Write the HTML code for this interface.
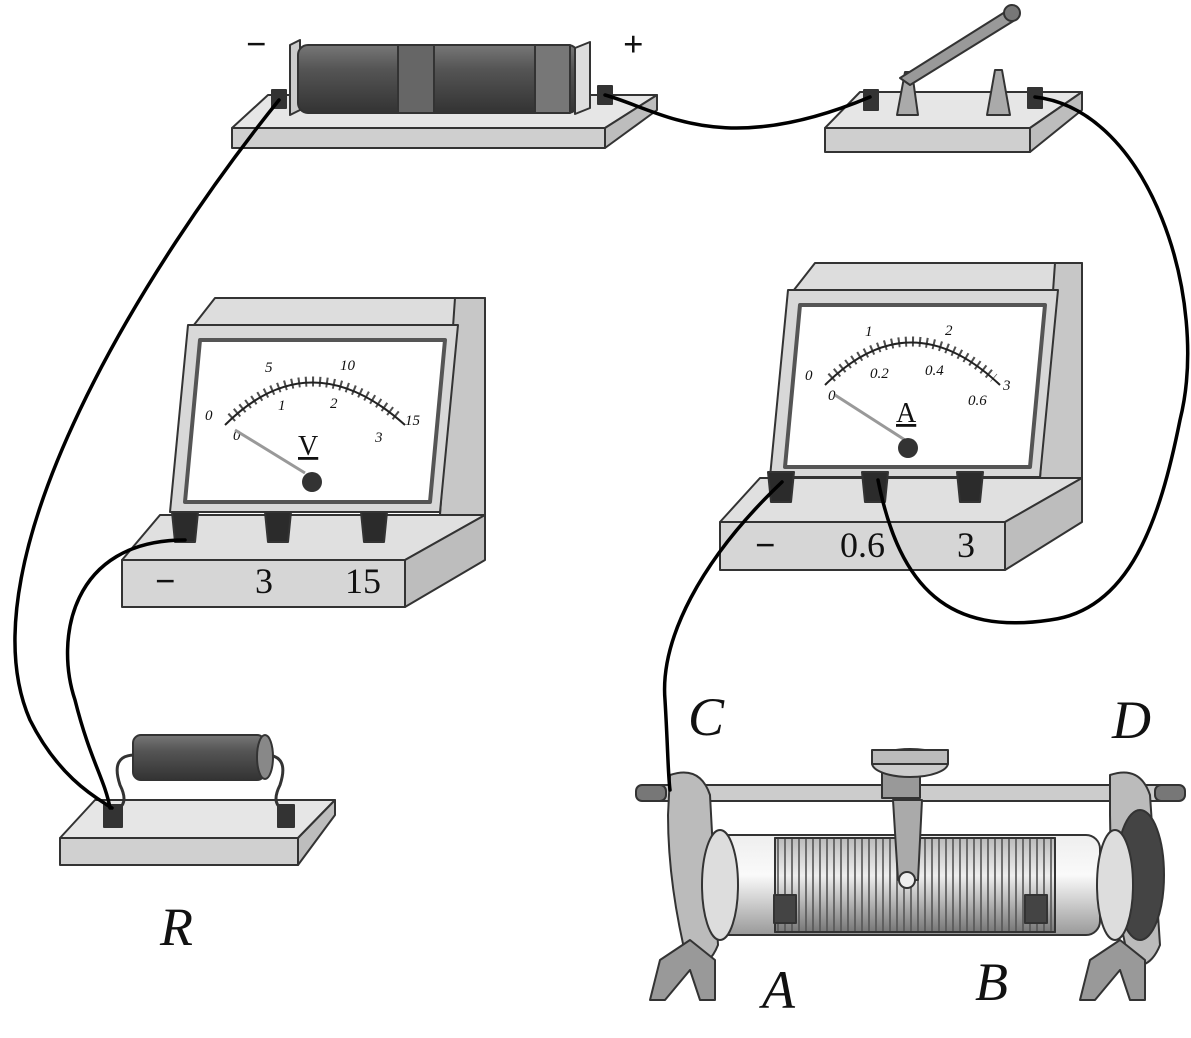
<!DOCTYPE html>
<html><head><meta charset="utf-8"><style>
html,body{margin:0;padding:0;background:#fff;}
svg{display:block;}
text{font-family:"Liberation Serif",serif;}
</style></head><body>
<svg width="1191" height="1038" viewBox="0 0 1191 1038" xmlns="http://www.w3.org/2000/svg">
<defs>
<linearGradient id="cyl" x1="0" y1="0" x2="0" y2="1">
<stop offset="0" stop-color="#777"/><stop offset="0.35" stop-color="#555"/><stop offset="1" stop-color="#333"/></linearGradient>
<linearGradient id="lcyl" x1="0" y1="0" x2="0" y2="1">
<stop offset="0" stop-color="#eee"/><stop offset="0.4" stop-color="#fafafa"/><stop offset="1" stop-color="#999"/></linearGradient>
<linearGradient id="coil" x1="0" y1="0" x2="0" y2="1">
<stop offset="0" stop-color="#bbb"/><stop offset="0.4" stop-color="#eee"/><stop offset="1" stop-color="#777"/></linearGradient>
<pattern id="turns" width="7" height="10" patternUnits="userSpaceOnUse"><line x1="1" y1="0" x2="1" y2="10" stroke="#555" stroke-width="1.6"/></pattern>
</defs>
<g stroke="#333" stroke-width="2" stroke-linejoin="round">
<!-- battery base -->
<polygon points="268,95 657,95 605,128 232,128" fill="#e6e6e6"/>
<rect x="232" y="128" width="373" height="20" fill="#cfcfcf"/>
<polygon points="605,128 657,95 657,110 605,148" fill="#bdbdbd"/>
<polygon points="290,45 300,40 300,110 290,115" fill="#ccc"/>
<rect x="298" y="45" width="280" height="68" rx="10" fill="url(#cyl)"/>
<rect x="398" y="45" width="36" height="68" fill="#666"/>
<rect x="535" y="45" width="35" height="68" fill="#777"/>
<polygon points="575,48 590,42 590,108 575,114" fill="#ddd"/>
<rect x="272" y="90" width="14" height="18" fill="#333"/>
<rect x="598" y="86" width="14" height="18" fill="#333"/>
<!-- switch -->
<polygon points="860,92 1082,92 1030,128 825,128" fill="#e6e6e6"/>
<rect x="825" y="128" width="205" height="24" fill="#cfcfcf"/>
<polygon points="1030,128 1082,92 1082,110 1030,152" fill="#bdbdbd"/>
<polygon points="897,115 905,72 912,72 918,115" fill="#aaa"/>
<polygon points="987,115 995,70 1002,70 1010,115" fill="#aaa"/>
<polygon points="900,78 1005,12 1015,20 910,85" fill="#999"/>
<circle cx="1012" cy="13" r="8" fill="#777"/>
<rect x="864" y="90" width="14" height="20" fill="#333"/>
<rect x="1028" y="88" width="14" height="20" fill="#333"/>
<!-- voltmeter -->
<polygon points="190,330 215,298 485,298 485,515 440,515 455,330" fill="#ddd"/>
<polygon points="455,298 485,298 485,515 440,540 440,515" fill="#c7c7c7"/>
<polygon points="188,325 458,325 440,512 170,512" fill="#d8d8d8"/>
<polygon points="200,340 445,340 430,502 185,502" fill="#fff" stroke="#555" stroke-width="4"/>
<polygon points="160,515 485,515 405,560 122,560" fill="#e0e0e0"/>
<rect x="122" y="560" width="283" height="47" fill="#d6d6d6"/>
<polygon points="405,560 485,515 485,560 405,607" fill="#bdbdbd"/>
<g fill="#2b2b2b"><path d="M172,512 h26 l-3,30 h-20z"/><path d="M265,512 h26 l-3,30 h-20z"/><path d="M361,512 h26 l-3,30 h-20z"/></g>
<!-- ammeter -->
<polygon points="790,295 815,263 1082,263 1082,478 1040,478 1055,295" fill="#ddd"/>
<polygon points="1055,263 1082,263 1082,478 1040,505 1040,478" fill="#c7c7c7"/>
<polygon points="788,290 1058,290 1040,477 770,477" fill="#d8d8d8"/>
<polygon points="800,305 1045,305 1030,467 785,467" fill="#fff" stroke="#555" stroke-width="4"/>
<polygon points="760,478 1082,478 1005,522 720,522" fill="#e0e0e0"/>
<rect x="720" y="522" width="285" height="48" fill="#d6d6d6"/>
<polygon points="1005,522 1082,478 1082,522 1005,570" fill="#bdbdbd"/>
<g fill="#2b2b2b"><path d="M768,472 h26 l-3,30 h-20z"/><path d="M862,472 h26 l-3,30 h-20z"/><path d="M957,472 h26 l-3,30 h-20z"/></g>
<!-- resistor R -->
<polygon points="95,800 335,800 298,838 60,838" fill="#e6e6e6"/>
<rect x="60" y="838" width="238" height="27" fill="#d0d0d0"/>
<polygon points="298,838 335,800 335,815 298,865" fill="#bdbdbd"/>
<path d="M135,755 q-25,0 -15,30 q10,20 -5,25 M265,755 q25,0 15,30 q-10,20 5,25" fill="none" stroke-width="3"/>
<rect x="133" y="735" width="132" height="45" rx="8" fill="url(#cyl)"/>
<ellipse cx="265" cy="757" rx="8" ry="22" fill="#888"/>
<rect x="104" y="805" width="18" height="22" fill="#333"/>
<rect x="278" y="805" width="16" height="22" fill="#333"/>
<!-- rheostat -->
<rect x="640" y="785" width="540" height="16" rx="6" fill="#ccc"/>
<rect x="700" y="835" width="400" height="100" rx="14" fill="url(#lcyl)"/>
<rect x="775" y="838" width="280" height="94" fill="url(#coil)"/>
<rect x="775" y="838" width="280" height="94" fill="url(#turns)"/>
<rect x="882" y="770" width="38" height="28" fill="#999"/>
<ellipse cx="910" cy="763" rx="38" ry="14" fill="#ccc"/>
<rect x="872" y="750" width="76" height="14" fill="#bbb"/>
<polygon points="893,800 922,800 918,880 898,880" fill="#aaa"/>
<circle cx="907" cy="880" r="8" fill="#eee"/>
<rect x="774" y="895" width="22" height="28" fill="#444"/>
<rect x="1025" y="895" width="22" height="28" fill="#444"/>
<path d="M670,775 q30,-10 40,20 l8,150 q-10,25 -30,20 q-20,-80 -20,-150z" fill="#bbb"/>
<ellipse cx="720" cy="885" rx="18" ry="55" fill="#ddd"/>
<path d="M660,960 l30,-20 l25,20 v40 h-15 l-10,-30 l-25,30 h-15z" fill="#999"/>
<path d="M1110,775 q30,-10 40,20 l10,150 q-10,25 -30,20 q-20,-80 -20,-150z" fill="#bbb"/>
<ellipse cx="1140" cy="875" rx="24" ry="65" fill="#444"/>
<ellipse cx="1115" cy="885" rx="18" ry="55" fill="#ddd"/>
<path d="M1090,960 l30,-20 l25,20 v40 h-15 l-10,-30 l-25,30 h-15z" fill="#999"/>
<rect x="636" y="785" width="30" height="16" rx="6" fill="#777"/>
<rect x="1155" y="785" width="30" height="16" rx="6" fill="#777"/>
</g>
<!-- dial scales -->
<g fill="none" stroke="#222" stroke-width="2">
<path d="M225,425 Q310,340 405,425"/>
<path d="M825,385 Q910,300 1000,385"/>
</g>
<g fill="none" stroke="#222" stroke-width="3" stroke-dasharray="2 5">
<path d="M231,418 Q310,345 399,418" stroke-width="10" stroke="#222" opacity="0.8"/>
<path d="M831,378 Q910,305 994,378" stroke-width="10" stroke="#222" opacity="0.8"/>
</g>
<g font-size="15" font-style="italic" fill="#111">
<text x="205" y="420">0</text><text x="265" y="372">5</text><text x="340" y="370">10</text><text x="405" y="425">15</text>
<text x="233" y="440">0</text><text x="278" y="410">1</text><text x="330" y="408">2</text><text x="375" y="442">3</text>
<text x="805" y="380">0</text><text x="865" y="336">1</text><text x="945" y="335">2</text><text x="1003" y="390">3</text>
<text x="828" y="400">0</text><text x="870" y="378">0.2</text><text x="925" y="375">0.4</text><text x="968" y="405">0.6</text>
</g>
<line x1="235" y1="430" x2="305" y2="473" stroke="#999" stroke-width="3"/>
<circle cx="312" cy="482" r="10" fill="#333"/>
<text x="298" y="455" font-size="28" fill="#111" text-decoration="underline">V</text>
<line x1="835" y1="395" x2="905" y2="440" stroke="#999" stroke-width="3"/>
<circle cx="908" cy="448" r="10" fill="#333"/>
<text x="896" y="422" font-size="28" fill="#111" text-decoration="underline">A</text>
<!-- labels -->
<g fill="#111" font-family="Liberation Sans,sans-serif" font-size="36" font-weight="bold">
<text x="246" y="56">−</text><text x="623" y="56">+</text>
</g>
<g fill="#111" font-size="36">
<text x="155" y="593" font-family="Liberation Sans,sans-serif" font-weight="bold">−</text><text x="255" y="593">3</text><text x="345" y="593">15</text>
<text x="755" y="557" font-family="Liberation Sans,sans-serif" font-weight="bold">−</text><text x="840" y="557">0.6</text><text x="957" y="557">3</text>
</g>
<g fill="#111" font-size="54" font-style="italic">
<text x="160" y="945">R</text><text x="688" y="735">C</text><text x="1112" y="738">D</text>
<text x="762" y="1008">A</text><text x="975" y="1000">B</text>
</g>
<!-- wires -->
<g fill="none" stroke="#000" stroke-width="3.5" stroke-linecap="round">
<path d="M279,100 C150,260 -40,560 30,720 C60,780 100,800 112,808"/>
<path d="M185,540 C70,540 55,640 75,700 C90,760 105,780 110,808"/>
<path d="M605,95 C660,110 720,160 870,97"/>
<path d="M1035,97 C1150,110 1210,300 1180,420 C1160,520 1130,610 1050,620 C950,635 900,590 878,480"/>
<path d="M782,482 C700,560 660,640 665,700 C668,750 668,775 670,790"/>
</g>
</svg>
</body></html>
